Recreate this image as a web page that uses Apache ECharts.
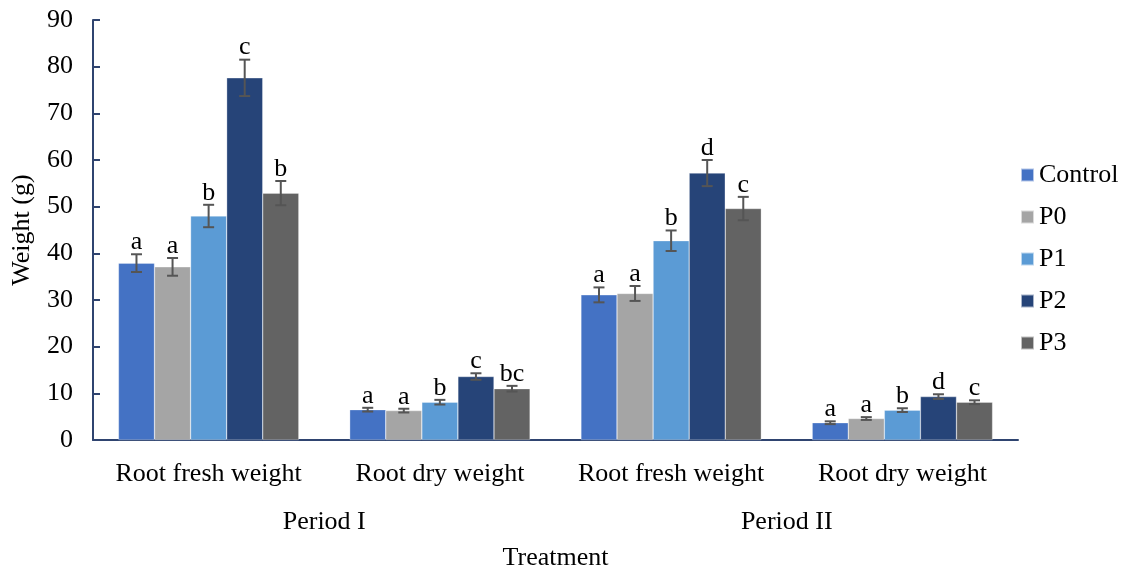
<!DOCTYPE html>
<html>
<head>
<meta charset="utf-8">
<script src="https://cdn.jsdelivr.net/npm/echarts@6/dist/echarts.min.js"></script>
<style>
  html, body { margin: 0; padding: 0; background: #fff; }
  #chart { width: 1130px; height: 570px; }
</style>
</head>
<body>
<div id="chart"></div>
<script>
const categories = ['Root fresh weight', 'Root dry weight', 'Root fresh weight', 'Root dry weight']
const periods = ['Period I', 'Period II']
const treatments = ['Control', 'P0', 'P1', 'P2', 'P3']
const colors = ['#4472C4', '#A5A5A5', '#5B9BD5', '#264478', '#636363']

// means per treatment, in category order
const controlValues = [37.9, 6.5, 31.1, 3.7]
const p0Values = [37.1, 6.3, 31.4, 4.6]
const p1Values = [48.0, 8.1, 42.7, 6.4]
const p2Values = [77.6, 13.6, 57.2, 9.3]
const p3Values = [52.9, 11.0, 49.6, 8.1]

const controlErr = [1.9, 0.4, 1.6, 0.3]
const p0Err = [1.9, 0.4, 1.6, 0.3]
const p1Err = [2.4, 0.5, 2.2, 0.4]
const p2Err = [3.9, 0.7, 2.8, 0.5]
const p3Err = [2.6, 0.6, 2.5, 0.4]

const controlLetters = ['a', 'a', 'a', 'a']
const p0Letters = ['a', 'a', 'a', 'a']
const p1Letters = ['b', 'b', 'b', 'b']
const p2Letters = ['c', 'c', 'd', 'd']
const p3Letters = ['b', 'bc', 'c', 'c']

const yTicks = { min: 0, max: 90, interval: 10 }

const values = [controlValues, p0Values, p1Values, p2Values, p3Values]
const errors = [controlErr, p0Err, p1Err, p2Err, p3Err]
const letters = [controlLetters, p0Letters, p1Letters, p2Letters, p3Letters]

const FONT = '"Liberation Serif", "Times New Roman", serif'
const FS = 26
const AXIS_COLOR = '#2F4470'
const CAT_GAP = 0.22

const chart = echarts.init(document.getElementById('chart'))

// error bars + significance letters, one item per bar
const errData = []
values.forEach((vals, s) => {
  vals.forEach((v, c) => {
    errData.push([c, s, v, errors[s][c], letters[s][c]])
  })
})

function renderErr(params, api) {
  const c = api.value(0)
  const s = api.value(1)
  const mean = api.value(2)
  const err = api.value(3)
  const letter = errData[params.dataIndex][4]
  const band = api.size([1, 0])[0]
  const barW = band * (1 - CAT_GAP) / treatments.length
  const center = api.coord([c, 0])[0]
  const x = center - barW * treatments.length / 2 + barW * (s + 0.5)
  const yTop = api.coord([c, mean + err])[1]
  const yBot = api.coord([c, mean - err])[1]
  const cap = 5.5
  const style = { stroke: '#555555', lineWidth: 2 }
  return {
    type: 'group',
    children: [
      { type: 'line', shape: { x1: x, y1: yTop, x2: x, y2: yBot }, style },
      { type: 'line', shape: { x1: x - cap, y1: yTop, x2: x + cap, y2: yTop }, style },
      { type: 'line', shape: { x1: x - cap, y1: yBot, x2: x + cap, y2: yBot }, style },
      {
        type: 'text',
        x: x,
        y: yTop + 1,
        style: {
          text: letter,
          fill: '#000',
          font: FS + 'px ' + FONT,
          align: 'center',
          verticalAlign: 'bottom'
        }
      }
    ]
  }
}

const barSeries = treatments.map((name, i) => ({
  name,
  type: 'bar',
  data: values[i],
  barGap: '0%',
  barCategoryGap: (CAT_GAP * 100) + '%',
  itemStyle: { color: colors[i], borderColor: 'rgba(255,255,255,0.6)', borderWidth: 0.5 },
  emphasis: { disabled: true }
}))

const option = {
  animation: false,
  textStyle: { fontFamily: FONT },
  grid: { left: 93, right: 112, top: 20, bottom: 130, outerBoundsMode: 'none', containLabel: false },
  legend: {
    orient: 'vertical',
    left: 1015,
    top: 157,
    itemWidth: 13,
    itemHeight: 13,
    itemGap: 16,
    icon: 'rect',
    data: treatments,
    textStyle: { fontFamily: FONT, fontSize: FS, color: '#000' }
  },
  xAxis: [
    {
      type: 'category',
      data: categories,
      axisLine: { lineStyle: { color: AXIS_COLOR, width: 2 } },
      axisTick: { show: false },
      axisLabel: { color: '#000', fontSize: FS, fontFamily: FONT, margin: 21, interval: 0 }
    },
    {
      type: 'category',
      data: periods,
      position: 'bottom',
      offset: 48,
      axisLine: { show: false },
      axisTick: { show: false },
      axisLabel: { color: '#000', fontSize: FS, fontFamily: FONT, margin: 21, interval: 0 },
      name: 'Treatment',
      nameLocation: 'middle',
      nameGap: 57,
      nameTextStyle: { color: '#000', fontSize: FS, fontFamily: FONT }
    }
  ],
  yAxis: {
    type: 'value',
    min: yTicks.min,
    max: yTicks.max,
    interval: yTicks.interval,
    name: 'Weight (g)',
    nameLocation: 'middle',
    nameGap: 58,
    nameTextStyle: { color: '#000', fontSize: FS, fontFamily: FONT },
    axisLine: { show: true, lineStyle: { color: AXIS_COLOR, width: 2 } },
    axisTick: { show: true, inside: true, length: 7, lineStyle: { color: AXIS_COLOR, width: 2 } },
    axisLabel: { color: '#000', fontSize: FS, fontFamily: FONT, margin: 20 },
    splitLine: { show: false }
  },
  series: [
    ...barSeries,
    {
      type: 'custom',
      name: 'errors',
      renderItem: renderErr,
      data: errData.map(d => d.slice(0, 4)),
      encode: { x: 0, y: 2 },
      z: 5,
      silent: true
    }
  ]
}

chart.setOption(option)
</script>
</body>
</html>
